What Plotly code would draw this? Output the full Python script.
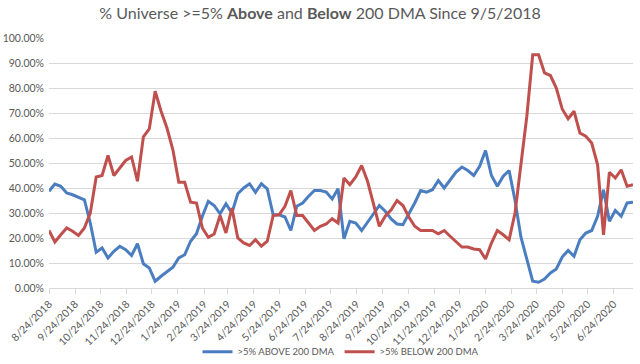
import pandas as pd
import plotly.graph_objects as go

# weekly observation dates (first date, count)
start_date = "2018-08-24"
n_weeks = 100
dates = pd.date_range(start=start_date, periods=n_weeks, freq="7D")

above_200dma = [
    38.7, 41.6, 40.7, 38.0, 37.3, 36.4, 35.3, 26.0, 14.3, 16.0,
    12.0, 14.7, 16.7, 15.3, 13.0, 17.7, 9.7, 8.0, 2.7, 4.7,
    6.4, 8.3, 12.0, 13.3, 18.7, 21.7, 28.7, 34.7, 33.0, 29.7,
    33.7, 30.0, 37.7, 40.0, 41.7, 38.3, 41.7, 39.7, 29.3, 29.3,
    28.4, 23.0, 32.7, 34.0, 36.7, 39.0, 39.0, 38.4, 35.6, 39.7,
    19.7, 26.7, 26.0, 23.0, 26.3, 29.7, 33.0, 30.7, 27.6, 25.6,
    25.3, 29.7, 34.0, 39.0, 38.3, 39.3, 43.0, 40.0, 43.3, 46.4,
    48.4, 47.0, 45.0, 48.7, 55.0, 45.0, 40.7, 44.7, 47.0, 35.0,
    20.4, 11.3, 2.7, 2.3, 3.6, 6.0, 7.6, 12.4, 15.0, 12.7,
    19.3, 22.0, 23.0, 28.7, 39.3, 26.7, 31.0, 28.7, 34.0, 34.3,
]

below_200dma = [
    23.0, 18.4, 21.3, 24.0, 22.7, 21.0, 24.0, 30.0, 44.4, 45.0,
    53.0, 45.0, 48.0, 51.0, 52.4, 42.7, 60.5, 63.6, 78.7, 70.7,
    64.0, 55.3, 42.3, 42.3, 34.3, 34.0, 24.0, 20.3, 21.6, 29.0,
    22.0, 32.0, 20.0, 18.0, 17.0, 19.3, 16.7, 18.7, 29.0, 29.3,
    32.7, 39.0, 29.0, 29.0, 26.0, 23.0, 24.7, 25.6, 27.7, 26.0,
    44.0, 41.3, 44.4, 49.0, 42.7, 34.0, 24.7, 28.7, 31.3, 35.0,
    33.0, 28.4, 24.7, 23.0, 23.0, 23.0, 21.7, 23.0, 20.7, 18.4,
    16.4, 16.4, 15.6, 15.3, 11.6, 18.0, 23.0, 21.3, 19.3, 30.0,
    50.0, 68.7, 93.3, 93.3, 86.0, 85.0, 80.0, 71.6, 67.7, 70.7,
    62.0, 60.7, 58.0, 49.3, 21.3, 46.3, 44.0, 47.3, 40.7, 41.3,
]

series_names = [">5% ABOVE 200 DMA", ">5% BELOW 200 DMA"]
series_colors = ["#4A7EC0", "#C0504D"]

title_html = "% Universe >=5% <b>Above</b> and <b>Below</b> 200 DMA Since 9/5/2018"

fig = go.Figure()
for name, vals, col in zip(series_names, [above_200dma, below_200dma], series_colors):
    fig.add_trace(go.Scatter(
        x=dates, y=vals, mode="lines", name=name,
        line=dict(color=col, width=3),
    ))

grey = "#595959"
fig.update_layout(
    width=640, height=364,
    margin=dict(l=49, r=7, t=38, b=76, autoexpand=False),
    paper_bgcolor="white", plot_bgcolor="white",
    font=dict(family="Lato, Open Sans, sans-serif", color=grey, size=11),
    title=dict(text=title_html, x=0.5, xanchor="center", y=0.962, yanchor="middle",
               font=dict(size=16, color=grey, family="Lato, Open Sans, sans-serif")),
    showlegend=True,
    legend=dict(orientation="h", x=0.5, xanchor="center", y=-0.255, yanchor="middle",
                font=dict(size=9.5, color=grey), itemwidth=30,
                bgcolor="rgba(0,0,0,0)"),
)
fig.update_xaxes(
    type="date", automargin=False,
    range=[dates[0], dates[-1]],
    tick0=start_date, dtick="M1", tickformat="%-m/%-d/%Y",
    tickangle=-45, tickfont=dict(size=10.5, color=grey),
    showgrid=False, showline=True, linecolor="#D9D9D9", linewidth=1,
    ticks="outside", ticklen=5, tickcolor="#D9D9D9",
    zeroline=False,
)
fig.update_yaxes(
    automargin=False,
    range=[0, 100], dtick=10, tickformat=".2f", ticksuffix="%",
    tickfont=dict(size=10.5, color=grey),
    showgrid=True, gridcolor="#D9D9D9", gridwidth=1,
    zeroline=False, showline=False, ticks="", ticklabelstandoff=4,
)

fig.write_html(
    "out.html",
    config={"displayModeBar": False},
    post_script="document.body.style.margin='0';document.body.style.padding='0';",
)
